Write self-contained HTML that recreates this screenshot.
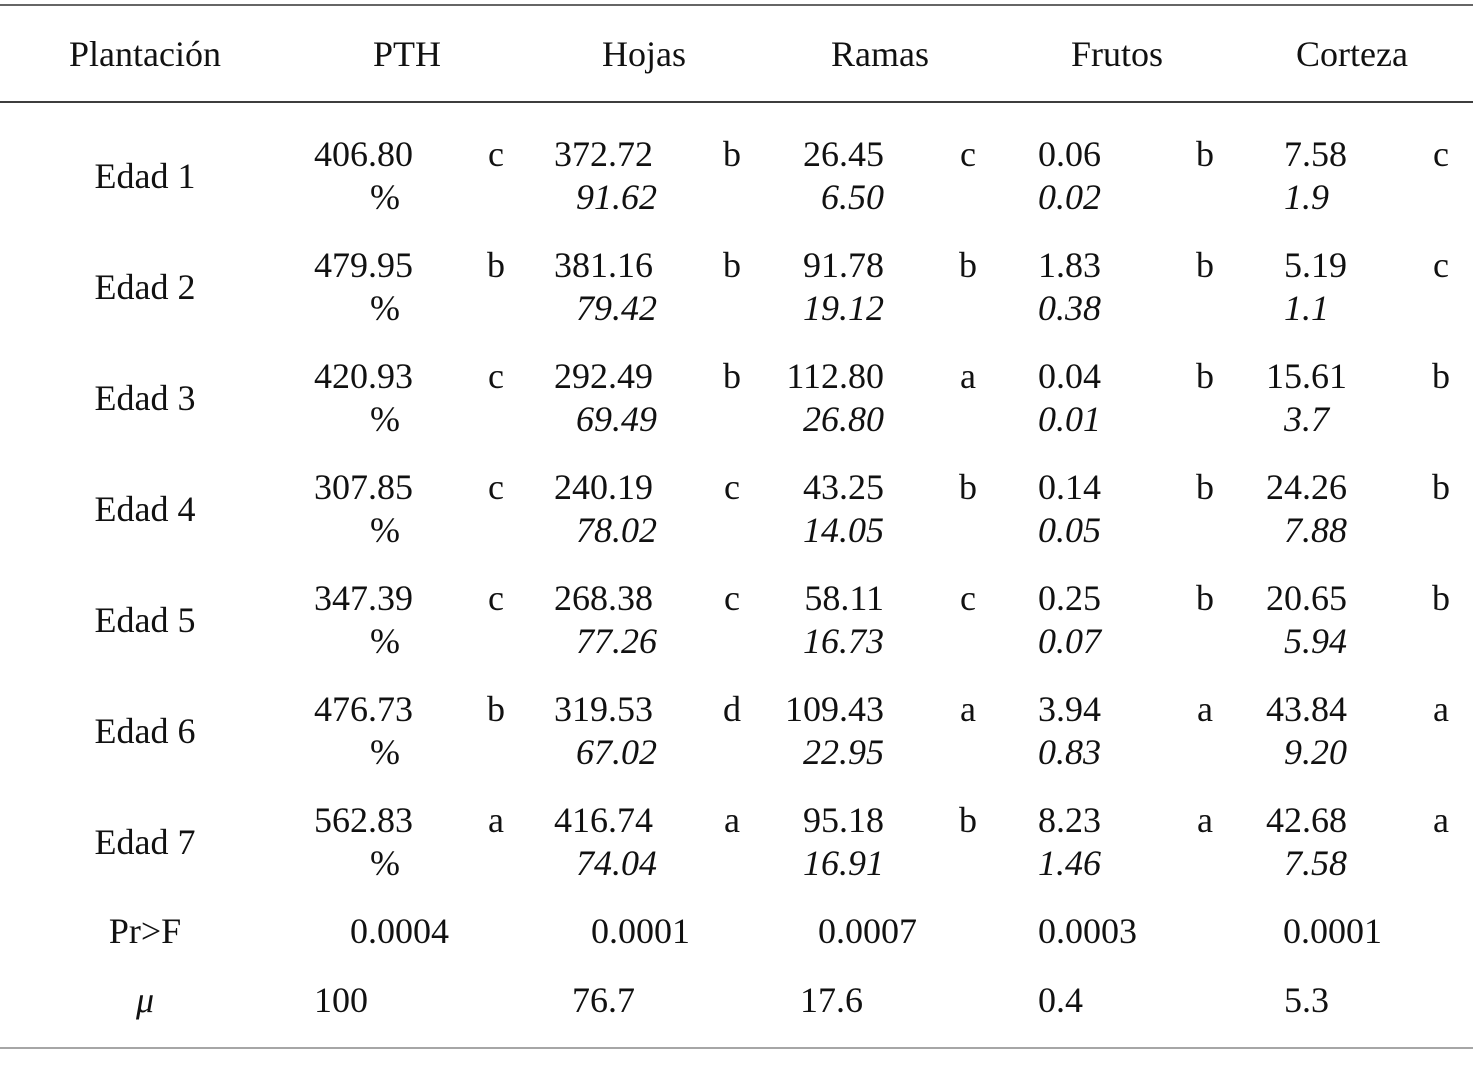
<!DOCTYPE html>
<html><head><meta charset="utf-8"><style>
html,body{margin:0;padding:0;background:#fff;}
svg{display:block;font-family:"Liberation Serif",serif;fill:#111;}
</style></head><body>
<svg id="t" width="1473" height="1066">
<line x1="0" y1="5" x2="1473" y2="5" stroke="#333" stroke-width="1.5"/>
<line x1="0" y1="102" x2="1473" y2="102" stroke="#222" stroke-width="1.8"/>
<line x1="0" y1="1048" x2="1473" y2="1048" stroke="#888" stroke-width="1.5"/>
</svg>
<script>
const headers=["Plantación","PTH","Hojas","Ramas","Frutos","Corteza"];
const rowLabels=["Edad 1","Edad 2","Edad 3","Edad 4","Edad 5","Edad 6","Edad 7"];
const pth=["406.80","479.95","420.93","307.85","347.39","476.73","562.83"];
const pthL=["c","b","c","c","c","b","a"];
const hojas=["372.72","381.16","292.49","240.19","268.38","319.53","416.74"];
const hojasP=["91.62","79.42","69.49","78.02","77.26","67.02","74.04"];
const hojasL=["b","b","b","c","c","d","a"];
const ramas=["26.45","91.78","112.80","43.25","58.11","109.43","95.18"];
const ramasP=["6.50","19.12","26.80","14.05","16.73","22.95","16.91"];
const ramasL=["c","b","a","b","c","a","b"];
const frutos=["0.06","1.83","0.04","0.14","0.25","3.94","8.23"];
const frutosP=["0.02","0.38","0.01","0.05","0.07","0.83","1.46"];
const frutosL=["b","b","b","b","b","a","a"];
const corteza=["7.58","5.19","15.61","24.26","20.65","43.84","42.68"];
const cortezaP=["1.9","1.1","3.7","7.88","5.94","9.20","7.58"];
const cortezaL=["c","c","b","b","b","a","a"];
const prf=["0.0004","0.0001","0.0007","0.0003","0.0001"];
const mu=["100","76.7","17.6","0.4","5.3"];

const svg=document.getElementById('t');
const NS="http://www.w3.org/2000/svg";
function txt(s,x,y,anchor,italic,name){
  const e=document.createElementNS(NS,'text');
  e.setAttribute('x',x);e.setAttribute('y',y);
  e.setAttribute('font-size','36');
  if(anchor)e.setAttribute('text-anchor',anchor);
  if(italic)e.setAttribute('font-style','italic');
  e.textContent=s;
  
  
  svg.appendChild(e);
}
const hx=[145,407,644,880,1117,1352];
headers.forEach((h,i)=>txt(h,hx[i],66,'middle',false,'column-header'));
for(let r=0;r<7;r++){
  const b=166+r*111, b2=b+43;
  txt(rowLabels[r],145,b+22,'middle',false,'row-label');
  txt(pth[r],314,b,null,false,'pth-value');
  txt('%',385,b2,'middle',false,'pth-percent');
  txt(pthL[r],496,b,'middle',false,'pth-letter');
  txt(hojas[r],554,b,null,false,'hojas-value');
  txt(hojasP[r],657,b2,'end',true,'hojas-percent');
  txt(hojasL[r],732,b,'middle',false,'hojas-letter');
  txt(ramas[r],884,b,'end',false,'ramas-value');
  txt(ramasP[r],884,b2,'end',true,'ramas-percent');
  txt(ramasL[r],968,b,'middle',false,'ramas-letter');
  txt(frutos[r],1038,b,null,false,'frutos-value');
  txt(frutosP[r],1038,b2,null,true,'frutos-percent');
  txt(frutosL[r],1205,b,'middle',false,'frutos-letter');
  txt(corteza[r],1347,b,'end',false,'corteza-value');
  txt(cortezaP[r],1284,b2,null,true,'corteza-percent');
  txt(cortezaL[r],1441,b,'middle',false,'corteza-letter');
}
txt('Pr>F',145,943,'middle',false,'prf-label');
const px=[350,591,818,1038,1283];
prf.forEach((v,i)=>txt(v,px[i],943,null,false,'prf-value'));
txt('μ',145,1012,'middle',true,'mu-label');
const mx=[314,572,800,1038,1284];
mu.forEach((v,i)=>txt(v,mx[i],1012,null,false,'mu-value'));
</script>
</body></html>
